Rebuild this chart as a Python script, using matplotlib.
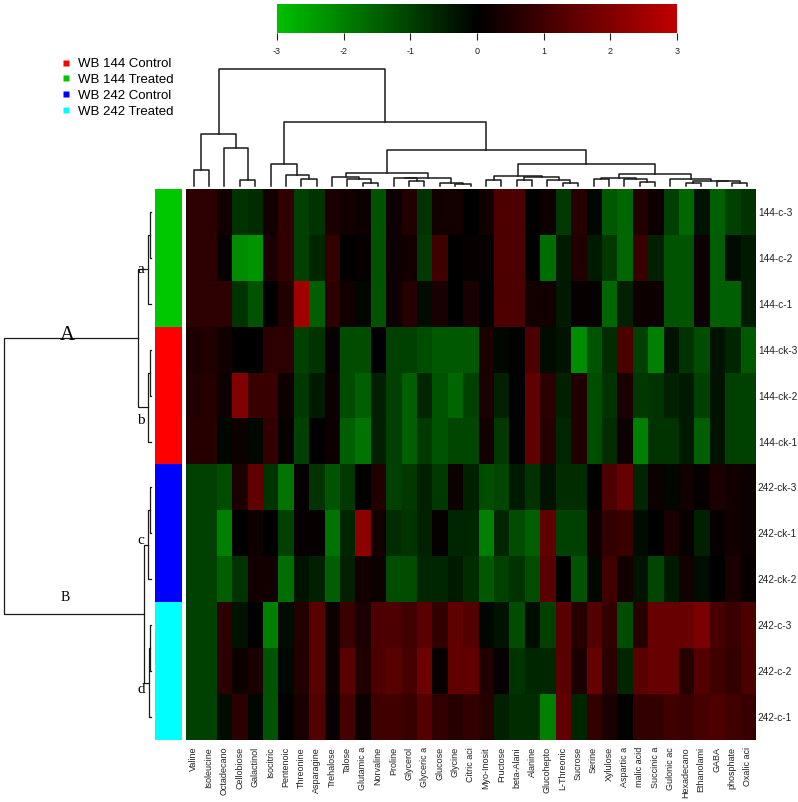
import numpy as np
import matplotlib.pyplot as plt
from matplotlib.colors import LinearSegmentedColormap, ListedColormap
from matplotlib.lines import Line2D

plt.rcParams['font.family'] = ['Liberation Sans', 'DejaVu Sans']
plt.rcParams['axes.unicode_minus'] = False

metabolites = ['Valine', 'Isoleucine', 'Octadecano', 'Cellobiose', 'Galactinol', 'Isocitric',
               'Pentenoic', 'Threonine', 'Asparagine', 'Trehalose', 'Talose', 'Glutamic a',
               'Norvaline', 'Proline', 'Glycerol', 'Glyceric a', 'Glucose', 'Glycine',
               'Citric aci', 'Myo-Inosit', 'Fructose', 'beta-Alani', 'Alanine', 'Glucohepto',
               'L-Threonic', 'Sucrose', 'Serine', 'Xylulose', 'Aspartic a', 'malic acid',
               'Succinic a', 'Gulonic ac', 'Hexadecano', 'Ethanolami', 'GABA', 'phosphate',
               'Oxalic aci']
samples = ['144-c-3', '144-c-2', '144-c-1', '144-ck-3', '144-ck-2', '144-ck-1',
           '242-ck-3', '242-ck-1', '242-ck-2', '242-c-3', '242-c-2', '242-c-1']
sample_group = [1, 1, 1, 0, 0, 0, 2, 2, 2, 3, 3, 3]
group_names = ['WB 144 Control', 'WB 144 Treated', 'WB 242 Control', 'WB 242 Treated']
group_colors = ['#ff0000', '#00c800', '#0000ff', '#00ffff']

# z-scores, one list per sample (row)
values = np.array([
    [0.7, 0.7, 0.3, -0.8, -0.7, 0.3, 0.8, -1.0, -0.8, 0.4, 0.3, 0.2, -1.3, 0.2, 0.5, -0.8, 0.3, 0.3, 0.0, 0.3,
     1.2, 1.2, 0.0, 0.2, -0.9, 0.6, -0.1, -1.4, -1.6, 0.5, 0.2, -1.0, -1.6, -0.3, -1.5, -1.0, -0.8],
    [0.7, 0.7, 0.1, -2.2, -2.3, 0.4, 0.8, -1.0, -0.6, 0.8, 0.0, 0.1, -1.3, 0.2, 0.3, -0.9, 1.0, 0.0, 0.1, 0.1,
     1.2, 1.2, 0.0, -1.7, -0.4, 0.5, -0.4, -0.9, -1.6, 0.9, -0.5, -1.3, -1.3, 0.2, -1.5, -0.2, -0.4],
    [0.7, 0.7, 0.7, -0.8, -1.3, 0.0, 0.5, 2.5, -1.5, 0.7, 0.3, -0.1, -1.3, 0.2, 0.6, -0.2, 0.4, 0.0, 0.4, 0.0,
     1.2, 1.2, 0.3, 0.3, -0.4, 0.1, 0.1, -1.6, -0.5, 0.2, 0.2, -1.3, -1.3, 0.2, -1.5, -1.5, -0.4],
    [0.4, 0.5, 0.3, 0.0, 0.0, 0.7, 0.7, -1.0, -0.8, 0.1, -1.2, -1.2, 0.0, -1.0, -1.0, -1.2, -1.4, -1.4, -1.4, 0.4,
     -0.1, 0.0, 1.2, -0.2, -0.3, -2.2, -1.3, -0.7, 1.2, -1.0, -2.0, -0.3, -0.8, -1.2, -0.3, -0.6, -1.4],
    [0.5, 0.6, 0.2, 2.0, 0.9, 0.9, 0.2, -0.9, -0.4, 0.2, -1.2, -1.5, -0.5, -1.0, -1.5, -0.6, -1.3, -1.6, -1.0, 0.4,
     -0.5, 0.0, 1.5, 0.7, -0.5, 0.5, -1.2, -0.8, 0.4, -0.9, -0.8, -0.5, -0.4, -1.0, -0.3, -1.0, -1.0],
    [0.6, 0.6, -0.1, 0.2, -0.1, 0.8, 0.1, -1.0, 0.0, 0.2, -1.5, -1.8, -0.5, -1.0, -1.5, -0.9, -1.3, -1.1, -1.1, 0.3,
     -0.9, 0.0, 1.5, 0.6, -0.6, 0.5, -1.2, -0.7, 0.2, -2.0, -0.8, -0.8, -0.4, -1.5, -0.3, -1.0, -1.0],
    [-1.0, -1.0, -1.2, 0.4, 1.5, -0.8, -1.8, 0.1, -0.8, -1.3, -0.9, 0.0, 0.5, -1.0, -0.9, -0.5, -0.9, 0.2, -0.5, -1.2,
     -1.1, -0.4, -0.8, -0.3, -0.7, -0.7, 0.0, 1.2, 1.6, -0.6, 0.2, -0.1, 0.3, 0.1, 0.4, 0.3, 0.2],
    [-1.0, -1.0, -2.0, 0.0, 0.2, 0.0, -1.0, 0.1, 0.1, -1.8, -0.6, 2.2, 0.3, -0.7, -0.8, -0.5, 0.1, -0.6, -0.6, -2.0,
     -0.6, -1.2, -1.5, 1.5, -1.0, -1.0, 0.2, 0.8, 0.9, -0.2, 0.0, 0.4, 0.1, -0.5, 0.1, 0.3, 0.2],
    [-1.0, -1.0, -1.5, -0.8, 0.3, 0.3, -1.7, -0.3, -0.5, -1.5, -0.5, 0.3, 0.2, -1.2, -1.2, -0.6, -0.6, -0.4, -0.7, -1.4,
     -1.0, -0.8, -1.2, 1.4, 0.0, -1.3, -0.1, 1.0, 0.3, -0.3, -1.1, -0.4, 0.3, -0.2, 0.0, 0.4, 0.1],
    [-1.0, -1.0, 0.7, -0.3, 0.0, -2.0, -0.2, 0.5, 1.4, 0.2, 0.9, 0.4, 1.2, 1.2, 1.0, 1.4, 0.8, 1.5, 1.3, -0.1,
     -0.3, -1.2, -0.2, -1.0, 1.4, 0.6, 1.3, 0.8, -1.2, 0.6, 1.6, 1.6, 1.6, 1.9, 1.1, 0.9, 1.2],
    [-1.0, -1.0, 0.7, 0.2, 0.4, -1.3, -0.1, 0.5, 1.4, 0.2, 1.4, 0.5, 1.2, 1.4, 1.1, 1.7, 0.1, 1.5, 1.5, 0.5,
     0.1, -0.8, -0.6, -0.6, 1.4, 0.4, 1.6, 0.7, -0.6, 1.4, 1.6, 1.6, 0.6, 1.3, 1.0, 0.8, 1.2],
    [-1.0, -1.0, -0.2, 0.7, -0.1, -1.3, 0.0, 0.4, 1.3, 0.1, 1.1, 0.2, 1.0, 1.0, 0.9, 1.3, 0.8, 0.6, 0.8, 0.6,
     -0.5, -0.7, -0.7, -2.0, 1.5, -0.6, 0.8, 0.4, 0.0, 0.8, 0.8, 1.0, 0.9, 1.1, 1.2, 1.0, 0.9],
])

# dendrograms: (height, left, right), leaves are names
col_tree = (352,
            (155, (47, 'Valine', 'Isoleucine'),
                  (113, 'Octadecano', (18, 'Cellobiose', 'Galactinol'))),
            (193,
             (65, 'Isocitric', (32, 'Pentenoic', (20, 'Threonine', 'Asparagine'))),
             (107,
              (40,
               (28, 'Trehalose', (22, 'Talose', (10, 'Glutamic a', 'Norvaline'))),
               (25, (23, 'Proline', (14, 'Glycerol', 'Glyceric a')),
                    (10, 'Glucose', (7, 'Glycine', 'Citric aci')))),
              (67,
               (30, (18, 'Myo-Inosit', 'Fructose'),
                    (27, (18, 'beta-Alani', 'Alanine'),
                         (19, 'Glucohepto', (10, 'L-Threonic', 'Sucrose')))),
               (37,
                (25, (22, 'Serine', 'Xylulose'),
                     (21, 'Aspartic a', (13, 'malic acid', 'Succinic a'))),
                (21, 'Gulonic ac',
                     (16, (9, 'Hexadecano', 'Ethanolami'),
                          (14, 'GABA', (9, 'phosphate', 'Oxalic aci')))))))))

row_tree = (146.5,
            (12.5, (2.5, (1.0, '144-c-3', '144-c-2'), '144-c-1'),
                   (2.5, (1.0, '144-ck-3', '144-ck-2'), '144-ck-1')),
            (6.5, (2.5, (1.0, '242-ck-3', '242-ck-1'), '242-ck-2'),
                  (1.5, (0.8, '242-c-3', '242-c-2'), '242-c-1')))

cluster_labels = [('A', 83.5, 2.68, 15), ('B', 85.5, 8.4, 10),
                  ('a', 9.5, 1.25, 11), ('b', 9.5, 4.55, 11),
                  ('c', 9.5, 7.15, 11), ('d', 9.5, 10.4, 11)]


def draw_tree(ax, node, names, top, **kw):
    if isinstance(node, str):
        return names.index(node), 0.0
    h, left, right = node
    p1, h1 = draw_tree(ax, left, names, top, **kw)
    p2, h2 = draw_tree(ax, right, names, top, **kw)
    pos = [p1, p1, p2, p2]
    hs = [h1, h, h, h2]
    if top:
        ax.plot(pos, hs, **kw)
    else:
        ax.plot(hs, pos, **kw)
    return (p1 + p2) / 2, h


W, H = 798, 802
fig = plt.figure(figsize=(W / 100, H / 100), dpi=100)


def px_axes(x0, y0, x1, y1):
    return fig.add_axes([x0 / W, 1 - y1 / H, (x1 - x0) / W, (y1 - y0) / H])


cmap = LinearSegmentedColormap.from_list('gkr', ['#00c000', '#000000', '#c00000'])

# heatmap
ax = px_axes(186, 189, 755, 740)
im = ax.imshow(values, cmap=cmap, vmin=-3, vmax=3, aspect='auto', interpolation='nearest')
ax.set_xticks(range(len(metabolites)))
ax.set_xticklabels(metabolites, rotation=90, fontsize=6.5, color='#222222')
ax.set_yticks(range(len(samples)))
ax.set_yticklabels(samples, fontsize=7.3, color='#222222')
ax.yaxis.tick_right()
ax.tick_params(axis='x', length=0, pad=5)
ax.tick_params(axis='y', length=0, pad=2)
for s in ax.spines.values():
    s.set_visible(False)

# group side bar
axs = px_axes(155, 189, 182, 740)
axs.imshow(np.array(sample_group)[:, None], cmap=ListedColormap(group_colors),
           vmin=-0.5, vmax=3.5, aspect='auto', interpolation='nearest')
axs.axis('off')

# column dendrogram
axc = px_axes(186, 60, 755, 186)
draw_tree(axc, col_tree, metabolites, True, color='#1a1a1a', lw=1.1, clip_on=False)
axc.set_xlim(-0.5, len(metabolites) - 0.5)
axc.set_ylim(0, 378)
axc.axis('off')

# row dendrogram
axr = px_axes(4, 189, 150.5, 740)
draw_tree(axr, row_tree, samples, False, color='#1a1a1a', lw=0.9, clip_on=False)
axr.set_xlim(146.5, 0)
axr.set_ylim(len(samples) - 0.5, -0.5)
axr.axis('off')
for lab, x, y, fs in cluster_labels:
    axr.text(x, y, lab, fontsize=fs, family='Liberation Serif', ha='center', va='center')

# colour key
axk = px_axes(277, 4, 677, 33)
cb = fig.colorbar(im, cax=axk, orientation='horizontal', ticks=range(-3, 4))
cb.outline.set_visible(False)
axk.tick_params(labelsize=6.5, length=5, width=0.8, pad=5, colors='#222222')

# legend
handles = [Line2D([], [], ls='none', marker='s', ms=5, mec='none', mfc=c) for c in group_colors]
fig.legend(handles, group_names, loc='upper left', bbox_to_anchor=(62 / W, 1 - 58 / H),
           frameon=False, fontsize=9.5, handlelength=0.6, handletextpad=0.6,
           labelspacing=0.27, borderpad=0, borderaxespad=0)

fig.savefig('out.png', dpi=100)
